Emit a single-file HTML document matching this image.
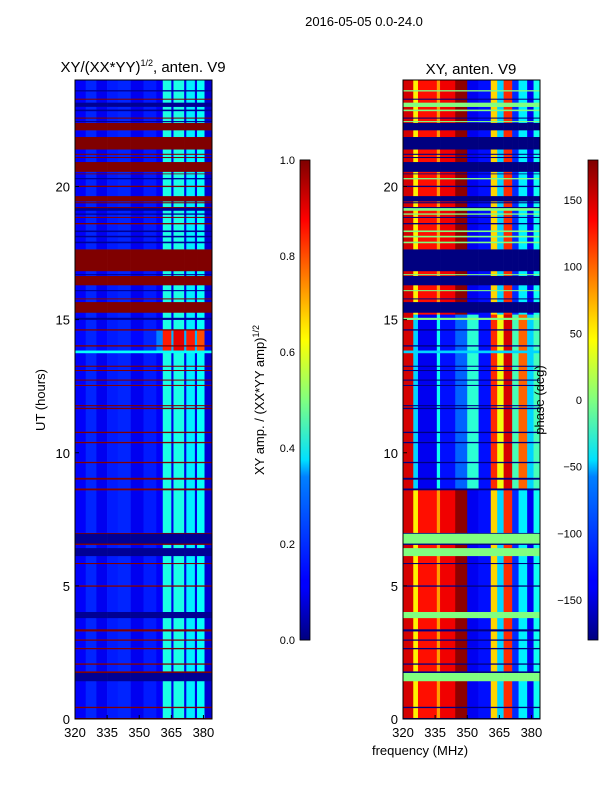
<!DOCTYPE html>
<html><head><meta charset="utf-8">
<style>
body{margin:0;background:#fff;width:600px;height:800px;overflow:hidden}
svg text{font-family:"Liberation Sans","DejaVu Sans",sans-serif;fill:#000}
</style></head>
<body>
<svg id="fig" width="600" height="800" viewBox="0 0 600 800" xmlns="http://www.w3.org/2000/svg">
<defs>
<linearGradient id="jet" x1="0" y1="1" x2="0" y2="0">
<stop offset="0" stop-color="#00007f"/><stop offset="0.11" stop-color="#0000ff"/>
<stop offset="0.125" stop-color="#0000ff"/><stop offset="0.34" stop-color="#0080ff"/>
<stop offset="0.375" stop-color="#00e0ff"/><stop offset="0.5" stop-color="#80ff80"/>
<stop offset="0.625" stop-color="#ffff00"/><stop offset="0.66" stop-color="#ffe000"/>
<stop offset="0.875" stop-color="#ff0000"/><stop offset="1" stop-color="#7f0000"/>
</linearGradient>
</defs>
<text x="364" y="26" font-size="13" text-anchor="middle">2016-05-05 0.0-24.0</text>
<text x="143" y="72" font-size="15" text-anchor="middle">XY/(XX*YY)<tspan font-size="9" dy="-6">1/2</tspan><tspan dy="6">, anten. V9</tspan></text>
<text x="471" y="74" font-size="15" text-anchor="middle">XY, anten. V9</text>
<g id="ampPanel"></g>
<g id="phPanel"></g>
<g id="axes"></g>
<text transform="translate(45,400) rotate(-90)" font-size="13" text-anchor="middle">UT (hours)</text>
<text x="420" y="755" font-size="13" text-anchor="middle">frequency (MHz)</text>
<rect x="300" y="160" width="10" height="480" fill="url(#jet)" stroke="#000" stroke-width="0.8"/>
<rect x="588" y="160" width="10" height="480" fill="url(#jet)" stroke="#000" stroke-width="0.8"/>
<text transform="translate(264,400) rotate(-90)" font-size="13" text-anchor="middle">XY amp. / (XX*YY amp)<tspan font-size="9" dy="-5">1/2</tspan></text>
<text transform="translate(544,400) rotate(-90)" font-size="13" text-anchor="middle">phase (deg)</text>
</svg>
<script>
// frequency band edges (MHz)
const ampEdges=[320,325,330,335,340,346,352,358,361,365,366,371,372,376,377,380.5,384];
const ampQuiet=[0.12,0.16,0.11,0.15,0.16,0.11,0.15,0.12,0.4,0.1,0.4,0.1,0.36,0.1,0.38,0.08];
const ampHot=[0.13,0.16,0.13,0.15,0.16,0.13,0.16,0.25,0.85,0.3,0.9,0.3,0.85,0.3,0.8,0.1];
const phEdges=[320,324.8,327,335.8,337.3,344.4,350,355.3,361,364,367,371,374,378,381,384];
const phQuiet=[150,50,130,80,140,175,-140,-130,60,-60,120,-120,-50,-140,-40];
const phMixed=[150,-60,-140,-40,-130,-100,-30,-130,120,40,150,-20,100,-60,-20];
// time segments: start hour, end hour, kind (q quiet, m mixed, h hot, c cyan, f flagged, g gap)
const segStart=[0,0.05,0.42,0.47,1.43,1.74,1.8,2.05,2.1,2.63,2.68,2.95,3.0,3.3,3.38,3.8,4.03,4.98,5.03,5.83,5.87,6.13,6.43,6.55,6.6,6.97,7.0,8.6,8.67,9.0,9.07,9.62,9.67,10.37,10.42,10.75,10.8,11.65,11.7,11.76,11.8,12.52,12.56,12.72,12.76,13.08,13.12,13.24,13.28,13.75,13.85,14.0,14.05,14.6,14.65,15.0,15.08,15.2,15.27,15.67,15.77,15.81,16.08,16.12,16.3,16.65,16.68,16.72,16.83,17.65,17.88,17.94,18.1,18.16,18.3,18.36,18.59,18.64,18.83,18.87,18.95,19.0,19.1,19.2,19.24,19.38,19.42,19.45,19.65,19.99,20.04,20.28,20.33,20.47,20.5,20.56,20.93,21.08,21.12,21.2,21.24,21.4,21.87,22.12,22.4,22.43,22.47,22.56,22.6,22.84,22.9,23.0,23.16,23.27,23.31,23.58,23.63];
const segKind=['f','q','f','q','g','f','q','f','q','f','q','f','q','f','q','g','q','f','q','f','q','g','q','f','g','f','q','f','m','f','m','f','m','f','m','f','m','f','m','f','m','f','m','f','m','f','m','f','m','c','h','f','h','f','m','g','m','q','f','q','f','q','g','q','f','q','g','q','f','q','g','q','g','q','g','q','f','q','f','q','g','q','g','f','q','f','q','f','q','f','q','g','q','f','q','f','q','f','q','f','q','f','q','f','q','g','q','f','q','g','q','g','q','f','q','g','q'];
const T1=24;

const ax={x0:75,x1:212,y0:719,y1:80};
const ax2={x0:403,x1:540,y0:719,y1:80};
function xs(a,f){return a.x0+(f-320)/(384-320)*(a.x1-a.x0);}
function ys(a,t){return a.y0-(t/24)*(a.y0-a.y1);}
function jet(v){const t=Math.max(0,Math.min(1,v));
 const c=x=>Math.round(255*Math.max(0,Math.min(1,1.5-Math.abs(4*t-x))));
 return `rgb(${c(3)},${c(2)},${c(1)})`;}
const NS="http://www.w3.org/2000/svg";
function ampVal(k,i){if(k==='f')return 1;if(k==='g')return 0.02;if(k==='c')return 0.38;if(k==='h')return ampHot[i];return ampQuiet[i];}
function phVal(k,i){if(k==='f')return -180;if(k==='g')return 0;if(k==='c')return -60;if(k==='m'||k==='h')return phMixed[i];return phQuiet[i];}
const gA=document.getElementById('ampPanel'),gP=document.getElementById('phPanel');
for(let s=0;s<segStart.length;s++){
 const t0=segStart[s],t1=s+1<segStart.length?segStart[s+1]:T1,k=segKind[s];
 for(let i=0;i<ampEdges.length-1;i++){
  const r=document.createElementNS(NS,'rect');
  
  
  const x=xs(ax,ampEdges[i]),x2=xs(ax,ampEdges[i+1]),y=ys(ax,t1),y2=ys(ax,t0);
  r.setAttribute('x',x);r.setAttribute('y',y);r.setAttribute('width',x2-x+0.3);r.setAttribute('height',y2-y+0.3);
  r.setAttribute('fill',jet(ampVal(k,i)));gA.appendChild(r);}
 for(let i=0;i<phEdges.length-1;i++){
  const r=document.createElementNS(NS,'rect');
  
  
  const x=xs(ax2,phEdges[i]),x2=xs(ax2,phEdges[i+1]),y=ys(ax2,t1),y2=ys(ax2,t0);
  r.setAttribute('x',x);r.setAttribute('y',y);r.setAttribute('width',x2-x+0.3);r.setAttribute('height',y2-y+0.3);
  r.setAttribute('fill',jet((phVal(k,i)+180)/360));gP.appendChild(r);}
}
const xTicks=[320,335,350,365,380];
const yTicks=[0,5,10,15,20];
const ampCbTicks=[0,0.2,0.4,0.6,0.8,1.0];
const phCbTicks=[-150,-100,-50,0,50,100,150];
const g=document.getElementById('axes');
function add(tag,attrs,text){const e=document.createElementNS(NS,tag);for(const a in attrs)e.setAttribute(a,attrs[a]);if(text!==undefined)e.textContent=text;g.appendChild(e);return e;}
[ax,ax2].forEach((a,pi)=>{
 const fr=add('rect',{x:a.x0,y:a.y1,width:a.x1-a.x0,height:a.y0-a.y1,fill:'none',stroke:'#000','stroke-width':1});
 
 
 xTicks.forEach(v=>{const x=xs(a,v);
  const l=add('line',{x1:x,x2:x,y1:a.y0,y2:a.y0-4,stroke:'#000'});
  
  
  const t=add('text',{x:x,y:a.y0+18,'font-size':13,'text-anchor':'middle'},String(v));
  
  });
 yTicks.forEach(v=>{const y=ys(a,v);
  const l=add('line',{x1:a.x0,x2:a.x0+4,y1:y,y2:y,stroke:'#000'});
  
  
  const t=add('text',{x:a.x0-5,y:y+5,'font-size':13,'text-anchor':'end'},String(v));
  
  });
});
ampCbTicks.forEach(v=>{const y=640-v*480;
 add('line',{x1:300,x2:310,y1:y,y2:y,stroke:'#000','stroke-width':0.8});
 const t=add('text',{x:295,y:y+4,'font-size':11,'text-anchor':'end'},v.toFixed(1));
 
 });
phCbTicks.forEach(v=>{const y=400-v*480/360;
 add('line',{x1:588,x2:598,y1:y,y2:y,stroke:'#000','stroke-width':0.8});
 const t=add('text',{x:582,y:y+4,'font-size':11,'text-anchor':'end'},v<0?'\u2212'+(-v):String(v));
 
 });
</script>
</body></html>
